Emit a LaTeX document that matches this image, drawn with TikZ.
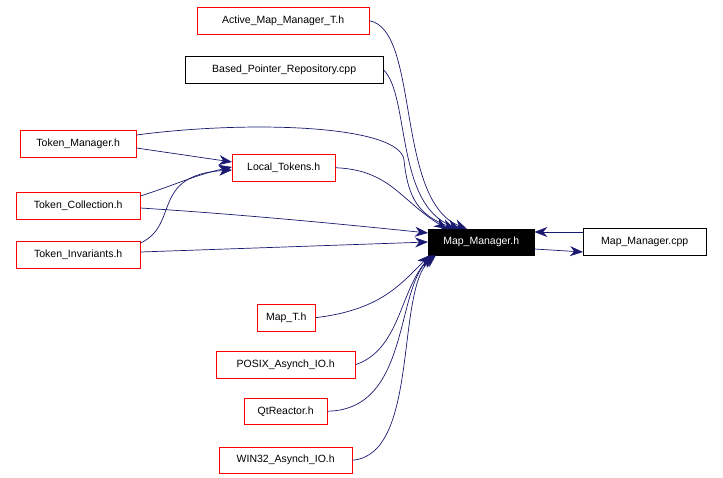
\documentclass[tikz,border=0pt]{standalone}
\usepackage{fontspec}
\setmainfont{Liberation Sans}
\usetikzlibrary{arrows.meta}
\definecolor{midnightblue}{RGB}{25,25,112}
\tikzset{
  file/.style = {draw=red, fill=white, inner sep=0pt, minimum height=27pt,
    font=\fontsize{10.5}{12}\selectfont, anchor=north west},
  doc/.style = {file, draw=black},
  cur/.style = {file, draw=black, fill=black, text=white},
  dep/.style = {draw=midnightblue, line width=0.7pt, -{Stealth[length=13pt,width=10pt]}}
}
\begin{document}
\begin{tikzpicture}[x=1pt, y=-1pt]
  \useasboundingbox (0,0) rectangle (723,478);
  % files
  \node[file, minimum width=172pt] (amm) at (197,7) {Active\_Map\_Manager\_T.h};
  \node[doc, minimum width=198pt] (bpr) at (185,56) {Based\_Pointer\_Repository.cpp};
  \node[file, minimum width=116pt] (tm) at (20,130) {Token\_Manager.h};
  \node[file, minimum width=103pt] (lt) at (232,154) {Local\_Tokens.h};
  \node[file, minimum width=124pt] (tc) at (16,192) {Token\_Collection.h};
  \node[file, minimum width=124pt] (ti) at (16,241) {Token\_Invariants.h};
  \node[cur, minimum width=106pt, minimum height=26pt] (mmh) at (428,229) {Map\_Manager.h};
  \node[doc, minimum width=123pt] (mmc) at (583,228) {Map\_Manager.cpp};
  \node[file, minimum width=58pt] (mt) at (257,304) {Map\_T.h};
  \node[file, minimum width=139pt] (pax) at (216,351) {POSIX\_Asynch\_IO.h};
  \node[file, minimum width=83pt, minimum height=26pt] (qtr) at (244,398) {QtReactor.h};
  \node[file, minimum width=133pt, minimum height=26pt] (wax) at (219,447) {WIN32\_Asynch\_IO.h};
  % edges
  \draw[dep] (amm.east) .. controls (420,30) and (395,200) .. (467,229);
  \draw[dep] (bpr.east) .. controls (410,95) and (395,205) .. (460,229);
  \draw[dep] (tm.east |- 0,135) .. controls (250,120) and (400,125) .. (404,160)
    .. controls (408,200) and (420,215) .. (455,229);
  \draw[dep] (tm.east |- 0,148) -- (lt.west |- 0,162);
  \draw[dep] (tc.east |- 0,196) .. controls (175,185) and (195,175) .. (lt.west |- 0,167);
  \draw[dep] (ti.east |- 0,243) .. controls (180,225) and (150,175) .. (lt.west |- 0,170);
  \draw[dep] (lt.east) .. controls (390,170) and (400,200) .. (447,229);
  \draw[dep] (tc.east |- 0,208) .. controls (250,215) and (350,225) .. (428,233);
  \draw[dep] (ti.east |- 0,252) -- (428,242);
  \draw[dep] (mt.east) .. controls (380,310) and (400,285) .. (430,255);
  \draw[dep] (pax.east) .. controls (400,350) and (400,290) .. (432,255);
  \draw[dep] (qtr.east) .. controls (410,410) and (395,290) .. (434,255);
  \draw[dep] (wax.east) .. controls (420,455) and (395,290) .. (436,255);
  \draw[dep] (mmc.west |- 0,232) -- (mmh.east |- 0,232);
  \draw[dep] (mmh.east |- 0,249) -- (mmc.west |- 0,252);
\end{tikzpicture}
\end{document}
